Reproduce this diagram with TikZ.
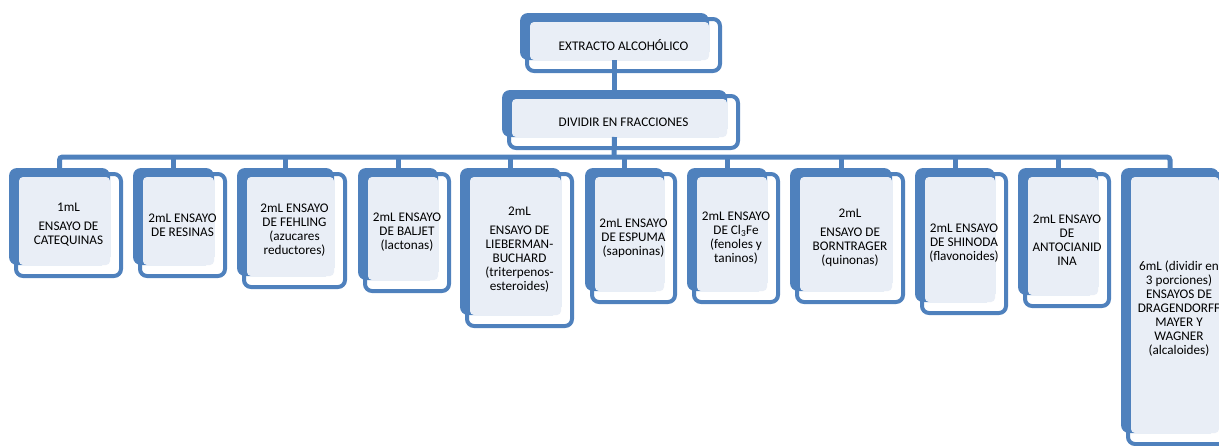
\documentclass[tikz,border=0pt]{standalone}
\usepackage{fontspec}
\setmainfont{Carlito}
\usepackage{tikz}
\usetikzlibrary{calc}
\definecolor{blu}{HTML}{4F81BD}
\definecolor{pale}{HTML}{E9EEF6}
\tikzset{
  back/.style={fill=blu, draw=none, rounded corners=8pt, inner sep=0pt, outer sep=0pt, anchor=north west},
  rim/.style={draw=blu, fill=white, line width=4pt, rounded corners=7pt},
  pane/.style={fill=pale, rounded corners=4pt},
  lab/.style={align=center, font=\fontsize{13.2}{14}\selectfont, text=black, inner sep=0pt},
  link/.style={draw=blu, line width=5pt},
}
% box: name, left, top, right, bottom, text
\newcommand\ensayo[6]{%
  \draw[rim] (#2+7,#3+6) rectangle (#4-2,#5-2);
  \node[back, minimum width=#4pt-#2pt-13pt, minimum height=#5pt-#3pt-13pt] (#1) at (#2,#3) {};
  \fill[pane] ([shift={(10,9)}]#1.north west) rectangle (#1.south east);
  \node[lab] (#1t) at ({(#2+5+#4)/2},{(#3+4+#5)/2}) {#6};
}

\begin{document}
\begin{tikzpicture}[x=1pt, y=-1pt]
  \useasboundingbox (0,0) rectangle (1219,445);
  \clip (0,0) rectangle (1219,445);

  \ensayo{top}{520}{13}{722}{73}{EXTRACTO ALCOHÓLICO}
  \ensayo{div}{502}{90}{740}{150}{DIVIDIR EN FRACCIONES}

  \ensayo{b1}{9}{168}{123}{278}{1mL\\[5pt]ENSAYO DE\\CATEQUINAS}
  \ensayo{b2}{133}{168}{227}{278}{2mL ENSAYO\\DE RESINAS}
  \ensayo{b3}{237}{168}{347}{289}{2mL ENSAYO\\DE FEHLING\\(azucares\\reductores)}
  \ensayo{b4}{358}{168}{451}{293}{2mL ENSAYO\\DE BALJET\\(lactonas)}
  \ensayo{b5}{460}{168}{574}{328}{2mL\\[5pt]ENSAYO DE\\LIEBERMAN-\\BUCHARD\\(triterpenos-\\esteroides)}
  \ensayo{b6}{585}{168}{677}{304}{2mL ENSAYO\\DE ESPUMA\\(saponinas)}
  \ensayo{b7}{687}{168}{780}{304}{2mL ENSAYO\\DE Cl\textsubscript{3}Fe\\(fenoles y\\taninos)}
  \ensayo{b8}{790}{168}{905}{304}{2mL\\[5pt]ENSAYO DE\\BORNTRAGER\\(quinonas)}
  \ensayo{b9}{915}{168}{1008}{315}{2mL ENSAYO\\DE SHINODA\\(flavonoides)}
  \ensayo{b10}{1018}{168}{1111}{308}{2mL ENSAYO\\DE\\ANTOCIANID\\INA}
  \ensayo{b11}{1121}{168}{1232}{446}{6mL (dividir en\\3 porciones)\\ENSAYOS DE\\DRAGENDORFF\\MAYER Y\\WAGNER\\(alcaloides)}

  % connectors
  \coordinate (bus) at (614,157);
  \draw[link] (top.south) -- (div.north);
  \draw[link] (div.south) -- (bus);
  \draw[link, rounded corners=3pt] (b1.north) |- (bus) -| (b11.north);
  \foreach \b in {b2,b3,b4,b5,b6,b7,b8,b9,b10}
    \draw[link] (bus -| \b.north) -- (\b.north);
\end{tikzpicture}
\end{document}
